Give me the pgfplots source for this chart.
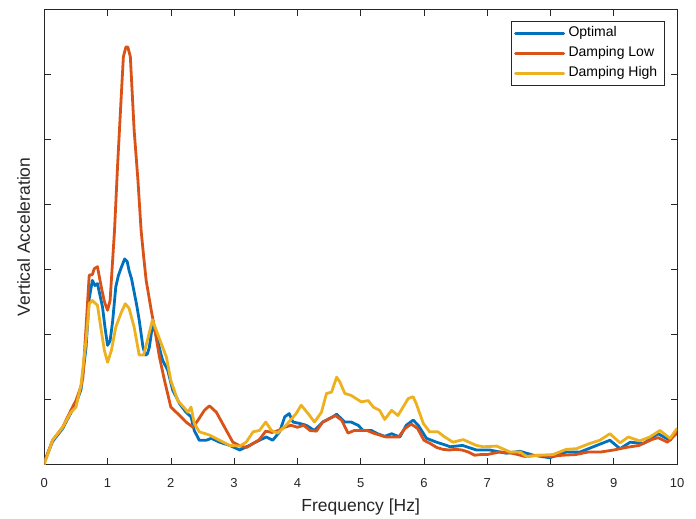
\documentclass[border=0pt]{standalone}
\usepackage{pgfplots}
\pgfplotsset{compat=1.18}
\usepackage{fontspec}
\setmainfont{Liberation Sans}
\definecolor{mblue}{rgb}{0,0.447,0.741}
\definecolor{morange}{rgb}{0.85,0.325,0.098}
\definecolor{myellow}{rgb}{0.929,0.694,0.125}
\definecolor{axgray}{rgb}{0.15,0.15,0.15}
\begin{document}
\begin{tikzpicture}
\begin{axis}[
  scale only axis, width=632.7pt, height=455pt,
  xmin=0, xmax=10, ymin=0, ymax=7,
  xtick={0,1,2,3,4,5,6,7,8,9,10},
  ytick={0,1,2,3,4,5,6,7}, yticklabels={},
  tick align=inside, xtick pos=both, ytick pos=both,
  major tick length=6.3pt,
  axis line style={color=axgray, line width=0.6pt},
  tick style={color=axgray, line width=0.6pt},
  /pgf/number format/assume math mode=true,
  xticklabel style={font=\fontsize{13}{15}\selectfont, color=axgray, anchor=base, yshift=-23.5pt},
  xlabel={Frequency [Hz]},
  ylabel={Vertical Acceleration},
  xlabel style={font=\fontsize{17.5}{20}\selectfont, color=axgray, anchor=base, at={(axis description cs:0.5,0)}, yshift=-47.5pt},
  ylabel style={font=\fontsize{17.5}{20}\selectfont, color=axgray, anchor=base, at={(axis description cs:0,0.5)}, yshift=14.3pt},
  legend style={at={(rel axis cs:1,1)}, anchor=north east, xshift=-13pt, yshift=-11.7pt,
     draw=axgray, line width=0.5pt, fill=white, font=\fontsize{14}{16}\selectfont,
     inner xsep=3pt, inner ysep=2pt,
     nodes={text height=10.5pt, text depth=3pt, inner ysep=3.25pt, inner xsep=3.5pt}},
  legend cell align=left,
  legend image code/.code={\draw[#1, line width=2.8pt] (0pt,0pt) -- (48pt,0pt);},
  every axis plot/.append style={line width=2.8pt, line join=round, line cap=round},
]
\addplot[color=mblue] coordinates {
(0,0.03) (0.13,0.35) (0.29,0.55) (0.42,0.79) (0.5,0.93) (0.58,1.15) (0.66,1.8) (0.71,2.55)
(0.76,2.83) (0.8,2.75) (0.84,2.78) (0.88,2.6) (0.92,2.42) (0.96,2.1) (1.0,1.83) (1.04,1.9)
(1.08,2.2) (1.13,2.73) (1.17,2.9) (1.21,3.01) (1.27,3.16) (1.31,3.12) (1.34,2.98) (1.38,2.85)
(1.42,2.65) (1.46,2.45) (1.50,2.22) (1.56,1.80) (1.6,1.68) (1.63,1.7) (1.66,1.80) (1.71,2.14)
(1.75,2.05) (1.79,1.91) (1.83,1.75) (1.87,1.6) (1.95,1.45) (2.03,1.14) (2.14,0.93) (2.24,0.8)
(2.32,0.73) (2.37,0.52) (2.45,0.37) (2.56,0.37) (2.64,0.4) (2.77,0.34) (2.93,0.29) (3.09,0.22)
(3.24,0.29) (3.4,0.37) (3.51,0.42) (3.61,0.37) (3.72,0.5) (3.8,0.73) (3.87,0.78) (3.93,0.65)
(4.03,0.63) (4.14,0.6) (4.27,0.52) (4.4,0.65) (4.56,0.73) (4.62,0.77) (4.75,0.65) (4.85,0.65)
(4.96,0.6) (5.04,0.52) (5.17,0.52) (5.27,0.47) (5.38,0.43) (5.49,0.47) (5.62,0.42) (5.72,0.6)
(5.83,0.68) (5.91,0.6) (6.04,0.4) (6.2,0.34) (6.36,0.29) (6.41,0.27) (6.61,0.29) (6.83,0.22)
(7.04,0.22) (7.3,0.17) (7.52,0.2) (7.73,0.14) (7.99,0.1) (8.25,0.19) (8.47,0.19) (8.73,0.29)
(8.94,0.37) (9.1,0.24) (9.26,0.34) (9.47,0.32) (9.7,0.47) (9.89,0.37) (10,0.52)
};
\addlegendentry{Optimal}
\addplot[color=morange] coordinates {
(0,0.03) (0.13,0.37) (0.29,0.57) (0.42,0.83) (0.5,0.98) (0.58,1.2) (0.61,1.34) (0.66,2.11)
(0.71,2.91) (0.76,2.92) (0.79,3.01) (0.84,3.04) (0.9,2.73) (0.95,2.5) (1.0,2.37) (1.04,2.52)
(1.08,3.14) (1.11,3.6) (1.16,4.63) (1.21,5.55) (1.25,6.27) (1.29,6.42) (1.32,6.42) (1.36,6.27)
(1.42,5.14) (1.48,4.37) (1.53,3.6) (1.57,3.2) (1.61,2.83) (1.69,2.37) (1.74,2.11) (1.82,1.65)
(1.9,1.29) (2.0,0.88) (2.14,0.75) (2.24,0.65) (2.35,0.57) (2.43,0.68) (2.53,0.83) (2.61,0.9)
(2.72,0.8) (2.85,0.57) (2.98,0.34) (3.1,0.28) (3.2,0.26) (3.3,0.32) (3.4,0.38) (3.5,0.51)
(3.6,0.49) (3.7,0.52) (3.8,0.57) (3.9,0.6) (4.0,0.57) (4.1,0.6) (4.2,0.52) (4.3,0.51)
(4.4,0.65) (4.5,0.7) (4.6,0.75) (4.7,0.68) (4.8,0.48) (4.9,0.52) (5.0,0.52) (5.1,0.52)
(5.2,0.48) (5.3,0.45) (5.4,0.42) (5.5,0.42) (5.6,0.42) (5.7,0.55) (5.8,0.62) (5.9,0.55)
(6.0,0.37) (6.1,0.32) (6.2,0.26) (6.3,0.23) (6.4,0.22) (6.5,0.23) (6.6,0.22) (6.7,0.19)
(6.8,0.14) (6.9,0.15) (7.0,0.15) (7.2,0.19) (7.4,0.17) (7.6,0.12) (7.8,0.14) (8.0,0.12)
(8.2,0.14) (8.4,0.15) (8.6,0.19) (8.8,0.19) (9.0,0.22) (9.2,0.26) (9.4,0.29) (9.6,0.38)
(9.7,0.41) (9.85,0.34) (10,0.48)
};
\addlegendentry{Damping Low}
\addplot[color=myellow] coordinates {
(0,0.0) (0.13,0.37) (0.29,0.57) (0.42,0.8) (0.5,0.88) (0.58,1.22) (0.66,1.91) (0.71,2.47)
(0.76,2.52) (0.8,2.48) (0.84,2.45) (0.9,2.06) (0.95,1.75) (1.0,1.57) (1.06,1.75) (1.13,2.11)
(1.21,2.32) (1.28,2.47) (1.34,2.4) (1.42,2.11) (1.5,1.68) (1.57,1.68) (1.63,1.91) (1.71,2.22)
(1.82,1.93) (1.93,1.65) (2.0,1.29) (2.11,0.98) (2.22,0.86) (2.27,0.8) (2.32,0.88) (2.37,0.63)
(2.45,0.5) (2.61,0.45) (2.77,0.37) (2.93,0.29) (3.09,0.28) (3.19,0.34) (3.3,0.5) (3.4,0.52)
(3.5,0.65) (3.59,0.52) (3.69,0.48) (3.82,0.6) (3.98,0.78) (4.06,0.91) (4.17,0.78) (4.27,0.65)
(4.38,0.8) (4.46,1.09) (4.54,1.11) (4.62,1.34) (4.67,1.27) (4.75,1.09) (4.85,1.06) (4.93,1.01)
(5.01,0.96) (5.12,0.98) (5.2,0.88) (5.3,0.83) (5.38,0.69) (5.49,0.83) (5.59,0.75) (5.67,0.88)
(5.75,1.01) (5.83,1.04) (5.88,0.93) (5.99,0.63) (6.09,0.5) (6.22,0.5) (6.33,0.42) (6.46,0.34)
(6.62,0.38) (6.83,0.29) (6.94,0.27) (7.15,0.28) (7.36,0.19) (7.52,0.19) (7.62,0.12) (7.83,0.14)
(8.04,0.15) (8.25,0.23) (8.41,0.24) (8.62,0.32) (8.78,0.37) (8.94,0.47) (9.1,0.33) (9.23,0.42)
(9.41,0.36) (9.57,0.42) (9.73,0.52) (9.89,0.4) (10,0.55)
};
\addlegendentry{Damping High}
\coordinate (bl) at (rel axis cs:0,0);
\coordinate (tr) at (rel axis cs:1,1);
\end{axis}
\pgfresetboundingbox
\path (bl) ++(-44.3pt,-54.7pt) coordinate (a);
\path (tr) ++(19pt,9.3pt) coordinate (b);
\path (a) rectangle (b);
\end{tikzpicture}
\end{document}
